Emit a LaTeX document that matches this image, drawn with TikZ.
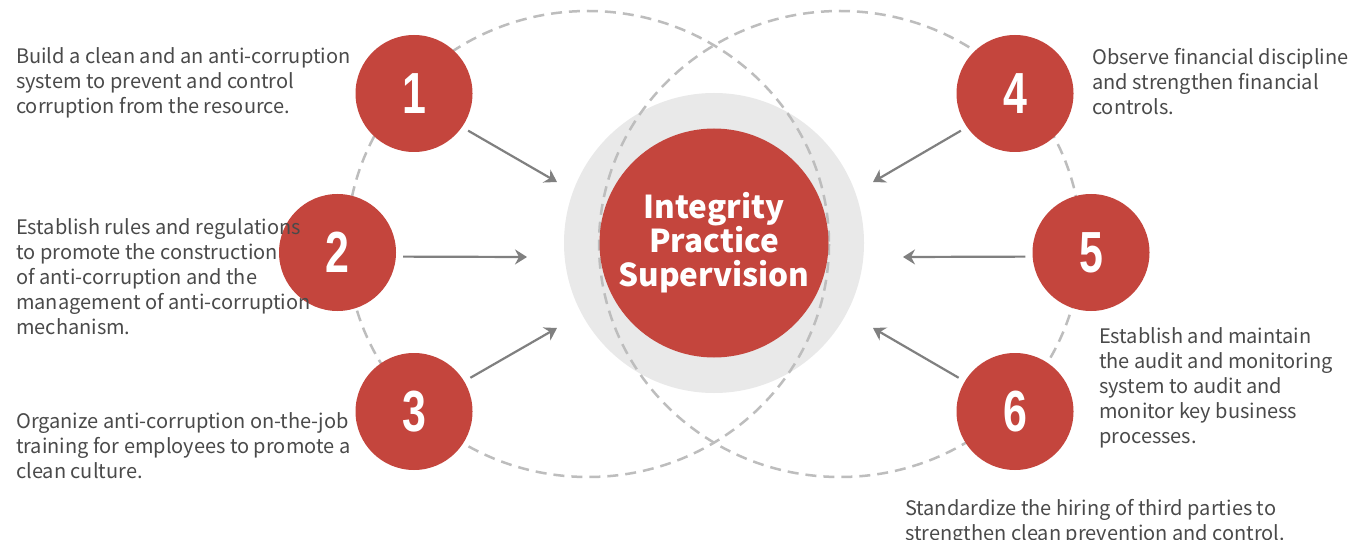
\documentclass[tikz,border=0pt]{standalone}
\usepackage{fontspec}
\setmainfont{Noto Sans CJK SC}
\newfontfamily\numfont{Liberation Sans Bold}[FakeStretch=0.74]
\usetikzlibrary{arrows.meta}
\definecolor{redfill}{HTML}{C4453D}
\definecolor{halogray}{HTML}{E9E9E9}
\definecolor{dashgray}{HTML}{BDBDBD}
\definecolor{arrowgray}{HTML}{808080}
\definecolor{textgray}{HTML}{4A4A4A}

\begin{document}
\begin{tikzpicture}[x=1pt,y=-1pt,
  ring/.style={draw=dashgray,line width=2.5pt,dash pattern=on 11pt off 7pt},
  numcircle/.style={circle,fill=redfill,minimum size=117pt,inner sep=0pt,text=white,
    font=\numfont\fontsize{58}{58}\selectfont},
  desc/.style={anchor=north west,inner sep=0pt,align=left,text=textgray,
    font=\fontsize{20}{25}\selectfont},
  flow/.style={draw=arrowgray,line width=2.2pt,shorten <=7pt,
    -{Stealth[length=12pt,width=15pt,inset=4pt]}}]
\useasboundingbox[fill=white] (0,0) rectangle (1354,540);
% gray halo and the two dashed rings
\fill[halogray] (714,243) circle (150);
\draw[ring] (588,244) ellipse (241 and 233);
\draw[ring] (840,244) ellipse (241 and 233);
\node[circle,fill=redfill,minimum size=229pt,inner sep=0pt,text=white,align=center,
  font=\bfseries\fontsize{31.5}{34}\selectfont] (core) at (714,243)
  {Integrity\\Practice\\Supervision};
\foreach \i/\x/\y in {1/414/93.5,2/337.5/252.5,3/414/411.5,4/1015/93.5,5/1091/252.5,6/1015/411.5}
  \node[numcircle] (n\i) at (\x,\y) {\i};
% free ends of the arrows
\coordinate (t1) at (557,182);
\coordinate (t2) at (527,257);
\coordinate (t3) at (557,328);
\coordinate (t4) at (873,182);
\coordinate (t5) at (903,257);
\coordinate (t6) at (873,328);
\draw[flow] (n1.-35) -- (t1);
\draw[flow] (n2.-4) -- (t2);
\draw[flow] (n3.31) -- (t3);
\draw[flow] (n4.-145) -- (t4);
\draw[flow] (n5.-176) -- (t5);
\draw[flow] (n6.149) -- (t6);
% descriptions
\node[desc] (d1) at (16,47.7) {Build a clean and an anti-corruption\\system to prevent and control\\corruption from the resource.};
\node[desc] (d2) at (16,218.7) {Establish rules and regulations\\to promote the construction\\of anti-corruption and the\\management of anti-corruption\\mechanism.};
\node[desc] (d3) at (16,412.7) {Organize anti-corruption on-the-job\\training for employees to promote a\\clean culture.};
\node[desc] (d4) at (1092,47.7) {Observe financial discipline\\and strengthen financial\\controls.};
\node[desc] (d5) at (1099,327.7) {Establish and maintain\\the audit and monitoring\\system to audit and\\monitor key business\\processes.};
\node[desc] (d6) at (905,498.7) {Standardize the hiring of third parties to\\strengthen clean prevention and control.};
\end{tikzpicture}
\end{document}
